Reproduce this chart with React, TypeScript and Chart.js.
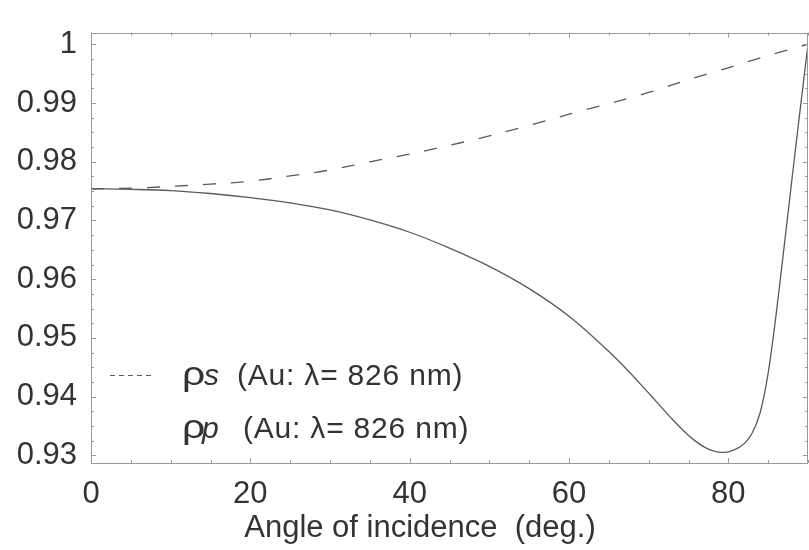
import React, { useEffect, useRef } from "react";
import { Chart, registerables } from "chart.js";

Chart.register(...registerables);

// ---- data ----
const anglesS = [0, 5, 10, 15, 20, 25, 30, 35, 40, 45, 50, 55, 60, 65, 70, 75, 80, 85, 90];
const rhoS = [0.9754, 0.9755, 0.9758, 0.9762, 0.9767, 0.9776, 0.9786, 0.9800, 0.9813, 0.9828, 0.9844, 0.9862, 0.9881, 0.9899, 0.9918, 0.9940, 0.9960, 0.9981, 1.0];

const anglesP = [0, 5, 10, 15, 20, 25, 30, 35, 40, 45, 50, 55, 60, 65, 67, 69, 71, 73, 74, 75, 76, 77, 78, 79, 80, 81, 82, 83, 84, 85, 86, 87, 88, 89, 90];
const rhoP = [0.9754, 0.9753, 0.9751, 0.9746, 0.9739, 0.9730, 0.9718, 0.9701, 0.9680, 0.9653, 0.9622, 0.9584, 0.9537, 0.9477, 0.9450, 0.9421, 0.9391, 0.9361, 0.9347, 0.9334, 0.9323, 0.9314, 0.9308, 0.9305, 0.9306, 0.9311, 0.9320, 0.9338, 0.9373, 0.9440, 0.9540, 0.9655, 0.9772, 0.9887, 1.0];

const xTicks = [0, 20, 40, 60, 80];
const yTicks = [0.93, 0.94, 0.95, 0.96, 0.97, 0.98, 0.99, 1.0];
const xMinorTicks = [0, 5, 10, 15, 20, 25, 30, 35, 40, 45, 50, 55, 60, 65, 70, 75, 80, 85, 90];
const yMinorTicks = [
  0.93, 0.9325, 0.935, 0.9375, 0.94, 0.9425, 0.945, 0.9475, 0.95, 0.9525, 0.955, 0.9575,
  0.96, 0.9625, 0.965, 0.9675, 0.97, 0.9725, 0.975, 0.9775, 0.98, 0.9825, 0.985, 0.9875,
  0.99, 0.9925, 0.995, 0.9975, 1.0,
];

const seriesLabels = ["ρs (Au: λ= 826 nm)", "ρp (Au: λ= 826 nm)"];
const legendSymbol = ["ρ", "ρ"];
const legendSub = ["s", "p"];
const legendRest = ["(Au: λ= 826 nm)", "(Au: λ= 826 nm)"];
const xTitle = "Angle of incidence  (deg.)";

const FONT = "'Liberation Sans', Arial, sans-serif";
const TEXT = "#333333";
const FRAME = "#9a9a9a";
const LINE = "#5a5a5a";

const decorPlugin = {
  id: "decor",
  afterDraw(chart: any) {
    const ctx = chart.ctx as CanvasRenderingContext2D;
    const { left, right, top, bottom } = chart.chartArea;
    const xs = chart.scales.x;
    const ys = chart.scales.y;
    ctx.save();
    // frame
    ctx.strokeStyle = FRAME;
    ctx.lineWidth = 1;
    ctx.setLineDash([]);
    ctx.strokeRect(Math.round(left) + 0.5, Math.round(top) + 0.5, Math.round(right - left) - 1, Math.round(bottom - top));
    // inward ticks
    ctx.beginPath();
    xMinorTicks.forEach((v) => {
      const px = Math.round(xs.getPixelForValue(v)) + 0.5;
      const len = xTicks.includes(v) ? 5 : 3;
      ctx.moveTo(px, bottom);
      ctx.lineTo(px, bottom - len);
      ctx.moveTo(px, top);
      ctx.lineTo(px, top + len);
    });
    yMinorTicks.forEach((v) => {
      if (v < ys.min || v > ys.max) return;
      const py = Math.round(ys.getPixelForValue(v)) + 0.5;
      const major = yTicks.some((t) => Math.abs(t - v) < 1e-6);
      const len = major ? 5 : 3;
      ctx.moveTo(left, py);
      ctx.lineTo(left + len, py);
      ctx.moveTo(right, py);
      ctx.lineTo(right - len, py);
    });
    ctx.stroke();

    // legend
    const baselines = [385, 438];
    const subX = [204, 202];
    const restX = [237, 243];
    ctx.fillStyle = TEXT;
    ctx.textBaseline = "alphabetic";
    ctx.textAlign = "left";
    for (let i = 0; i < 2; i++) {
      const y = baselines[i];
      ctx.font = `34px ${FONT}`;
      ctx.save();
      ctx.translate(182, y);
      ctx.scale(1.2, 1);
      ctx.fillText(legendSymbol[i], 0, 0);
      ctx.restore();
      ctx.font = `italic 30px ${FONT}`;
      ctx.fillText(legendSub[i], subX[i], y);
      ctx.font = `30px ${FONT}`;
      (ctx as any).letterSpacing = "0.8px";
      ctx.fillText(legendRest[i], restX[i], y);
      (ctx as any).letterSpacing = "0px";
    }
    // dashed sample for rho_s
    ctx.strokeStyle = LINE;
    ctx.lineWidth = 1;
    ctx.setLineDash([5, 4]);
    ctx.beginPath();
    ctx.moveTo(110, 375.5);
    ctx.lineTo(154, 375.5);
    ctx.stroke();
    ctx.setLineDash([]);

    // axis title
    ctx.font = `31px ${FONT}`;
    ctx.textAlign = "center";
    ctx.fillStyle = TEXT;
    ctx.fillText(xTitle, 420, 537);
    ctx.restore();
  },
};

export default function App() {
  const ref = useRef<HTMLCanvasElement>(null);
  useEffect(() => {
    if (!ref.current) return;
    const chart = new Chart(ref.current, {
      type: "line",
      data: {
        datasets: [
          {
            label: seriesLabels[0],
            data: anglesS.map((a, i) => ({ x: a, y: rhoS[i] })),
            borderColor: LINE,
            borderWidth: 1.3,
            borderDash: [13, 15],
            pointRadius: 0,
            fill: false,
            cubicInterpolationMode: "monotone",
          },
          {
            label: seriesLabels[1],
            data: anglesP.map((a, i) => ({ x: a, y: rhoP[i] })),
            borderColor: LINE,
            borderWidth: 1.3,
            pointRadius: 0,
            fill: false,
            cubicInterpolationMode: "monotone",
          },
        ],
      },
      options: {
        responsive: false,
        animation: false,
        devicePixelRatio: 1,
        layout: { padding: { top: 15, right: 1, left: 0, bottom: 0 } },
        plugins: { legend: { display: false }, tooltip: { enabled: false } },
        scales: {
          x: {
            type: "linear",
            min: 0,
            max: 90,
            grid: { display: false, drawTicks: false },
            border: { display: false },
            afterBuildTicks: (s: any) => {
              s.ticks = xTicks.map((v) => ({ value: v }));
            },
            afterFit: (s: any) => {
              s.height = 87;
            },
            ticks: {
              maxRotation: 0,
              autoSkip: false,
              padding: 13,
              color: TEXT,
              font: { family: FONT, size: 31 },
              callback: (v: any) => String(v),
            },
          },
          y: {
            type: "linear",
            min: 0.9287,
            max: 1.002,
            grid: { display: false, drawTicks: false },
            border: { display: false },
            afterBuildTicks: (s: any) => {
              s.ticks = yTicks.map((v) => ({ value: v }));
            },
            afterFit: (s: any) => {
              s.width = 91;
            },
            ticks: {
              autoSkip: false,
              padding: 14,
              color: TEXT,
              font: { family: FONT, size: 31 },
              callback: (v: any) => (Math.abs(v - 1) < 1e-9 ? "1" : Number(v).toFixed(2)),
            },
          },
        },
      },
      plugins: [decorPlugin],
    } as any);
    return () => chart.destroy();
  }, []);
  return (
    <div style={{ position: "absolute", left: 0, top: 0, width: 809, height: 550, background: "#fff" }}>
      <canvas ref={ref} width={809} height={550} />
    </div>
  );
}
